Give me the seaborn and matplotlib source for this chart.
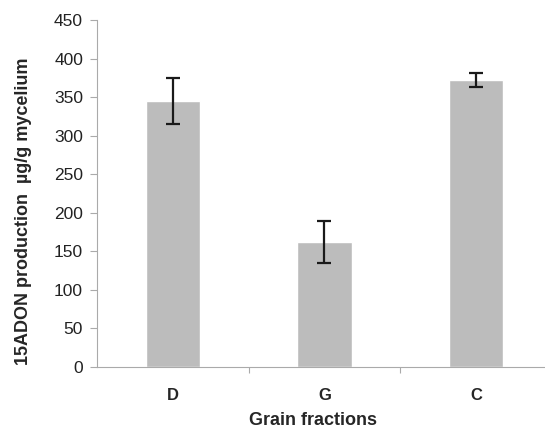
import matplotlib
matplotlib.use("Agg")
import matplotlib.pyplot as plt
import seaborn as sns
import pandas as pd
import numpy as np
from matplotlib.ticker import FixedLocator

categories = ["D", "G", "C"]
values = [345, 162, 372]
errors = [30, 27, 9]

sns.set_style("white")
plt.rcParams['font.family'] = ['Liberation Sans', 'DejaVu Sans']

df = pd.DataFrame({"fraction": categories, "value": values})

fig = plt.figure(figsize=(5.45, 4.28), dpi=100)
ax = fig.add_axes([0.178, 0.1425, 0.822, 0.8105])

sns.barplot(data=df, x="fraction", y="value", color="#bcbcbc", width=0.36,
            saturation=1, ax=ax, errorbar=None)
ax.errorbar(np.arange(len(categories)), values, yerr=errors, fmt="none",
            ecolor="#1a1a1a", elinewidth=1.6, capsize=4.7, capthick=1.6)

ax.set_ylim(0, 450)
ax.set_xlim(-0.5, 2.455)
ax.set_yticks(np.arange(0, 451, 50))
ax.tick_params(axis="y", labelsize=12.5, labelcolor="#222222", length=5, width=0.8,
               direction="out", left=True, pad=5, color="#aaaaaa")
ax.xaxis.set_minor_locator(FixedLocator([0.5, 1.5]))
ax.tick_params(axis="x", which="major", length=0, pad=15, labelsize=12)
ax.tick_params(axis="x", which="minor", length=4, width=0.8, color="#aaaaaa",
               direction="out", bottom=True)
for lab in ax.get_xticklabels():
    lab.set_fontweight("bold")

for s in ["top", "right"]:
    ax.spines[s].set_visible(False)
for s in ["left", "bottom"]:
    ax.spines[s].set_color("#aaaaaa")
    ax.spines[s].set_linewidth(0.8)

ax.set_xlabel("Grain fractions", fontsize=13, fontweight="bold")
ax.set_ylabel("15ADON production  \u00b5g/g mycelium", fontsize=13,
              fontweight="bold")
ax.xaxis.set_label_coords(0.482, -0.13)
ax.yaxis.set_label_coords(-0.146, 0.45)

fig.savefig("out.png", dpi=100)
